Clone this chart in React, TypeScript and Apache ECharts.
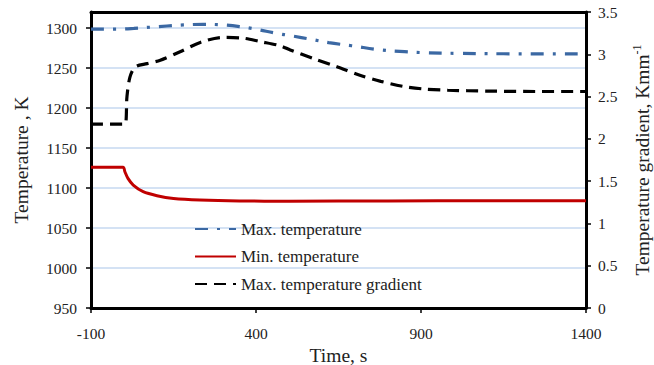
import React, { useEffect, useRef } from "react";
import * as echarts from "echarts";

// Time (s) values and readings for each series
const maxTempTimes = [-100, 0, 30, 80, 130, 180, 240, 300, 350, 400, 460, 510, 565, 620, 690, 780, 850, 910, 1010, 1150, 1400];
const maxTempValues = [1298.5, 1298.8, 1299.5, 1301, 1302.5, 1303.8, 1304.6, 1303.8, 1301.8, 1298.5, 1293.5, 1290, 1286, 1281.7, 1277.8, 1272.5, 1270.4, 1269.2, 1268.3, 1267.8, 1267.6];

const minTempTimes = [-100, -3, 3, 12, 28, 58, 100, 150, 230, 350, 500, 800, 1100, 1400];
const minTempValues = [1125.8, 1125.8, 1120, 1112, 1103.7, 1095.4, 1090.4, 1087, 1085, 1083.8, 1083.5, 1083.8, 1084, 1084];

const gradTimes = [-100, 3, 9, 18, 34, 70, 110, 170, 231, 301, 362, 413, 474, 504, 574, 647, 717, 778, 847, 908, 981, 1100, 1250, 1400];
const gradValues = [2.175, 2.175, 2.5, 2.73, 2.85, 2.89, 2.93, 3.03, 3.14, 3.2, 3.19, 3.15, 3.1, 3.05, 2.95, 2.85, 2.75, 2.68, 2.62, 2.59, 2.575, 2.565, 2.56, 2.56];

const seriesNames = ["Max. temperature", "Min. temperature", "Max. temperature gradient"];

const zip = (xs: number[], ys: number[]) => xs.map((x, i) => [x, ys[i]]);

const FONT = "'Liberation Serif', 'Times New Roman', serif";

export default function App() {
  const ref = useRef<HTMLDivElement>(null);
  useEffect(() => {
    if (!ref.current) return;
    const chart = echarts.init(ref.current, undefined, { renderer: "svg" });
    const axisLabelStyle = {
      color: "#222",
      fontFamily: FONT,
      fontSize: 15.5,
      formatter: (v: number) => String(v),
    };
    chart.setOption({
      animation: false,
      backgroundColor: "#fff",
      textStyle: { fontFamily: FONT },
      grid: {
        left: 91,
        right: 68,
        top: 12,
        bottom: 57,
        containLabel: false,
        outerBoundsMode: "none",
      },
      legend: {
        orient: "vertical",
        left: 189,
        top: 215,
        itemWidth: 41,
        itemHeight: 14,
        itemGap: 9.5,
        data: seriesNames,
        itemStyle: { opacity: 0 },
        textStyle: { fontFamily: FONT, fontSize: 17, lineHeight: 18, color: "#222" },
      },
      xAxis: [
        {
          type: "value",
          min: -100,
          max: 1400,
          interval: 500,
          name: "Time, s",
          nameLocation: "middle",
          nameGap: 34,
          nameTextStyle: { fontFamily: FONT, fontSize: 19.5, color: "#222" },
          axisLine: { onZero: false, lineStyle: { color: "#000", width: 3 } },
          axisTick: { show: true, length: 5, lineStyle: { color: "#000", width: 1.5 } },
          axisLabel: { ...axisLabelStyle, margin: 17 },
          splitLine: { show: false },
        },
        {
          type: "value",
          position: "top",
          min: -100,
          max: 1400,
          z: 10,
          axisLine: { show: true, onZero: false, lineStyle: { color: "#000", width: 3 } },
          axisTick: { show: false },
          axisLabel: { show: false },
          splitLine: { show: false },
        },
      ],
      yAxis: [
        {
          type: "value",
          min: 950,
          max: 1320,
          interval: 50,
          name: "Temperature , K",
          nameLocation: "middle",
          nameGap: 60,
          nameTextStyle: { fontFamily: FONT, fontSize: 19.5, color: "#222" },
          axisLine: { show: true, onZero: false, lineStyle: { color: "#000", width: 3 } },
          axisTick: { show: true, length: 5, lineStyle: { color: "#000", width: 1.5 } },
          axisLabel: { ...axisLabelStyle, margin: 14, showMaxLabel: false },
          splitLine: { show: true, lineStyle: { color: "#c6d9f1", width: 1.5 } },
        },
        {
          type: "value",
          position: "right",
          min: 0,
          max: 3.5,
          interval: 0.5,
          name: "Temperature gradient, Kmm{sup|-1}",
          nameLocation: "middle",
          nameGap: 45,
          nameRotate: 90,
          nameTextStyle: {
            fontFamily: FONT,
            fontSize: 19.5,
            color: "#222",
            rich: {
              sup: { fontFamily: FONT, fontSize: 12, color: "#222", verticalAlign: "top", padding: [0, 0, 10, 0] },
            },
          },
          axisLine: { show: true, onZero: false, lineStyle: { color: "#000", width: 3 } },
          axisTick: { show: true, length: 5, lineStyle: { color: "#000", width: 1.5 } },
          axisLabel: { ...axisLabelStyle, margin: 12 },
          splitLine: { show: false },
        },
      ],
      series: [
        {
          name: seriesNames[0],
          type: "line",
          yAxisIndex: 0,
          data: zip(maxTempTimes, maxTempValues),
          smooth: 0.4,
          symbol: "none",
          lineStyle: { color: "#3b68a3", width: 3.2, type: [13, 9, 3, 9] },
          itemStyle: { color: "#3b68a3" },
        },
        {
          name: seriesNames[1],
          type: "line",
          yAxisIndex: 0,
          data: zip(minTempTimes, minTempValues),
          smooth: 0.3,
          symbol: "none",
          lineStyle: { color: "#c00000", width: 3 },
          itemStyle: { color: "#c00000" },
        },
        {
          name: seriesNames[2],
          type: "line",
          yAxisIndex: 1,
          data: zip(gradTimes, gradValues),
          smooth: 0.3,
          symbol: "none",
          lineStyle: { color: "#000", width: 3.2, type: [12, 7] },
          itemStyle: { color: "#000" },
        },
      ],
    });
    return () => chart.dispose();
  }, []);
  return (
    <div
      ref={ref}
      style={{ position: "fixed", left: 0, top: 0, width: 654, height: 365, background: "#fff" }}
    />
  );
}
